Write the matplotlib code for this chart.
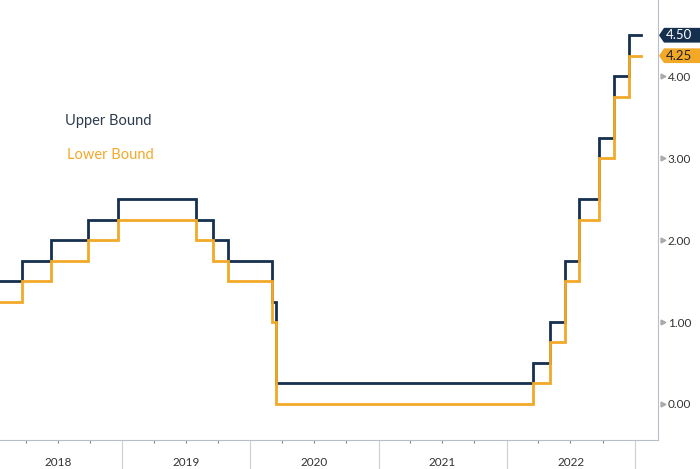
import numpy as np
import matplotlib
matplotlib.use("Agg")
import matplotlib.pyplot as plt
import matplotlib.dates as mdates
import matplotlib.transforms as mtransforms
from matplotlib.patches import Polygon

# Fed funds target range, step dates (value holds until next date)
step_dates = ["2018-01-18", "2018-03-21", "2018-06-13", "2018-09-26", "2018-12-19",
              "2019-07-31", "2019-09-18", "2019-10-30", "2020-03-03", "2020-03-15",
              "2022-03-16", "2022-05-04", "2022-06-15", "2022-07-27", "2022-09-21",
              "2022-11-02", "2022-12-14", "2023-01-18"]
upper_bound = [1.50, 1.75, 2.00, 2.25, 2.50, 2.25, 2.00, 1.75, 1.25, 0.25,
               0.50, 1.00, 1.75, 2.50, 3.25, 4.00, 4.50, 4.50]
lower_bound = [1.25, 1.50, 1.75, 2.00, 2.25, 2.00, 1.75, 1.50, 1.00, 0.00,
               0.25, 0.75, 1.50, 2.25, 3.00, 3.75, 4.25, 4.25]
year_labels = ["2018", "2019", "2020", "2021", "2022"]
y_ticks = [0.0, 1.0, 2.0, 3.0, 4.0]

navy = "#15304f"
orange = "#f2a928"
gray = "#b9bfc6"

plt.rcParams["font.family"] = ["Lato", "DejaVu Sans"]

dates = [np.datetime64(d) for d in step_dates]

fig = plt.figure(figsize=(7.0, 4.69), dpi=100)
ax = fig.add_axes([0.0, 29 / 469, 658 / 700, 440 / 469])

ax.step(dates, upper_bound, where="post", color=navy, lw=2.0, solid_joinstyle="miter")
ax.step(dates, lower_bound, where="post", color=orange, lw=2.0, solid_joinstyle="miter")

ax.set_xlim(np.datetime64("2018-01-18"), np.datetime64("2023-03-08"))
ax.set_ylim(-0.44, 4.93)

# spines
for s in ["left", "top"]:
    ax.spines[s].set_visible(False)
ax.spines["right"].set_color(gray)
ax.spines["bottom"].set_color(gray)

# x axis: year dividers and quarter ticks
ax.xaxis.set_major_locator(mdates.YearLocator())
ax.xaxis.set_minor_locator(mdates.MonthLocator(bymonth=[4, 7, 10]))
ax.xaxis.set_major_formatter(plt.NullFormatter())
ax.tick_params(axis="x", which="major", length=21, width=0.8, color="#c9d0d8")
ax.tick_params(axis="x", which="minor", length=2.5, width=0.8, color="#888888")
xtrans = mtransforms.blended_transform_factory(ax.transData, ax.transAxes)
for lab in year_labels:
    ax.text(np.datetime64(lab + "-07-02"), -0.05, lab, transform=xtrans,
            ha="center", va="center", fontsize=8.5, color="#333333")

# y axis on the right
ax.yaxis.tick_right()
ax.set_yticks(y_ticks)
ax.set_yticklabels([f"{v:.2f}" for v in y_ticks])
ax.tick_params(axis="y", length=0, pad=7, labelsize=8.5, labelcolor="#333333")
ytrans = mtransforms.blended_transform_factory(ax.transAxes, ax.transData)
ax.plot([1.007] * len(y_ticks), y_ticks, ls="none", marker=">", ms=3.5,
        color="#aaaaaa", transform=ytrans, clip_on=False)

# last value tags
px = 1 / 658
h = 0.09
for val, fc, tc in [(upper_bound[-1], navy, "white"), (lower_bound[-1], orange, "#222222")]:
    x0 = 1 + 1 * px
    x1 = 1 + 6 * px
    x2 = 1 + 50 * px
    poly = Polygon([(x0, val), (x1, val + h), (x2, val + h), (x2, val - h), (x1, val - h)],
                   closed=True, transform=ytrans, clip_on=False, facecolor=fc,
                   edgecolor="none")
    ax.add_patch(poly)
    ax.text(1 + 8 * px, val, f"{val:.2f}", transform=ytrans, ha="left", va="center",
            fontsize=9.5, color=tc, clip_on=False)

# legend as text
ax.text(65 / 658, 3.45, "Upper Bound", color="#2c3b4c", fontsize=10.5,
        va="center", ha="left", transform=ytrans)
ax.text(67 / 658, 3.04, "Lower Bound", color=orange, fontsize=10.5,
        va="center", ha="left", transform=ytrans)

fig.savefig("out.png", dpi=100)
